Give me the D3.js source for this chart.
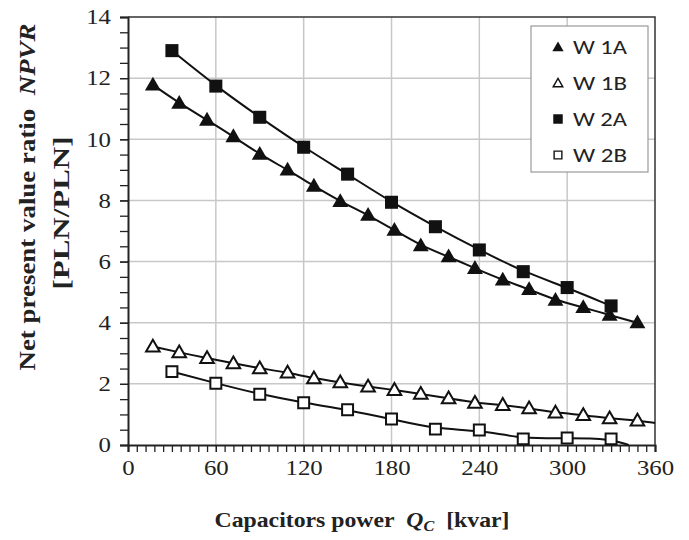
<!DOCTYPE html>
<html>
<head>
<meta charset="utf-8">
<script src="https://cdn.jsdelivr.net/npm/d3@7"></script>
<style>
  body { margin: 0; background: #fff; }
  svg { display: block; }
  .tick text { font-family: "Liberation Serif", "Times New Roman", serif; }
</style>
</head>
<body>
<div id="chart"></div>
<script>
// capacitor power steps [kvar]
var qA = [17, 35, 54, 72, 90, 109, 127, 145, 164, 182, 200, 219, 237, 256, 274, 292, 311, 329, 348];
var qB = [30, 60, 90, 120, 150, 180, 210, 240, 270, 300, 330];

// NPVR values
var w1a = [11.78, 11.18, 10.63, 10.09, 9.51, 9.0, 8.47, 7.97, 7.52, 7.03, 6.52, 6.16, 5.78, 5.4, 5.09, 4.74, 4.5, 4.25, 4.0];
var w1b = [3.22, 3.03, 2.84, 2.67, 2.51, 2.37, 2.18, 2.05, 1.91, 1.8, 1.67, 1.53, 1.38, 1.31, 1.2, 1.06, 0.98, 0.87, 0.8];
var w2a = [12.9, 11.74, 10.72, 9.74, 8.86, 7.94, 7.14, 6.38, 5.67, 5.15, 4.55];
var w2b = [2.4, 2.02, 1.66, 1.38, 1.15, 0.85, 0.52, 0.49, 0.2, 0.23, 0.2];

// where the trend lines run out past the last marker
var w1bTail = [[360, 0.72]];
var w2bTail = [[342, 0]];

var xTicks = [0, 60, 120, 180, 240, 300, 360];
var yTicks = [0, 2, 4, 6, 8, 10, 12, 14];

////////////////////////////////////////////////////////////////////////////////

var width = 689, height = 540;
var margin = { left: 128, right: 34, top: 17, bottom: 95 };

var svg = d3.select('#chart').append('svg')
    .attr('width', width)
    .attr('height', height);

var x = d3.scaleLinear().domain([0, 360]).range([margin.left, width - margin.right]);
var y = d3.scaleLinear().domain([0, 14]).range([height - margin.bottom, margin.top]);

// grid
svg.append('g').selectAll('line')
    .data(xTicks.slice(1, -1))
    .enter().append('line')
    .attr('x1', d => x(d)).attr('x2', d => x(d))
    .attr('y1', y(0)).attr('y2', y(14))
    .attr('stroke', '#c8c8c8').attr('stroke-width', 1.5);

svg.append('g').selectAll('line')
    .data(yTicks.slice(1, -1))
    .enter().append('line')
    .attr('x1', x(0)).attr('x2', x(360))
    .attr('y1', d => y(d)).attr('y2', d => y(d))
    .attr('stroke', '#c8c8c8').attr('stroke-width', 1.5);

// minor ticks
svg.append('g')
    .attr('transform', 'translate(0,' + y(0) + ')')
    .call(d3.axisBottom(x).tickValues(d3.range(0, 361, 6)).tickSize(7).tickFormat(''))
    .call(g => g.select('.domain').remove())
    .selectAll('line').attr('stroke', '#222').attr('stroke-width', 1.3);

svg.append('g')
    .attr('transform', 'translate(' + x(0) + ',0)')
    .call(d3.axisLeft(y).tickValues(d3.range(0, 14.01, 0.5)).tickSize(8).tickFormat(''))
    .call(g => g.select('.domain').remove())
    .selectAll('line').attr('stroke', '#222').attr('stroke-width', 1.3);

// axes with labels (the source font is a bit wide, so stretch the digits)
function styleLabels(sel) {
    sel.attr('font-size', 21).attr('fill', '#222')
        .attr('textLength', function() { return this.textContent.length * 12.4; })
        .attr('lengthAdjust', 'spacingAndGlyphs');
}

var xAxis = svg.append('g')
    .attr('transform', 'translate(0,' + y(0) + ')')
    .call(d3.axisBottom(x).tickValues(xTicks).tickSize(7).tickPadding(8));
xAxis.select('.domain').attr('stroke', '#222').attr('stroke-width', 2);
xAxis.selectAll('line').attr('stroke', '#222').attr('stroke-width', 1.3);
xAxis.selectAll('text').call(styleLabels);

var yAxis = svg.append('g')
    .attr('transform', 'translate(' + x(0) + ',0)')
    .call(d3.axisLeft(y).tickValues(yTicks).tickSize(8).tickPadding(9));
yAxis.select('.domain').attr('stroke', '#222').attr('stroke-width', 2);
yAxis.selectAll('line').attr('stroke', '#222').attr('stroke-width', 1.3);
yAxis.selectAll('text').call(styleLabels);

// top and right border
svg.append('path')
    .attr('d', 'M' + x(0) + ',' + y(14) + 'H' + x(360) + 'V' + y(0))
    .attr('fill', 'none').attr('stroke', '#333').attr('stroke-width', 1.5);

// series
var series = [
    { name: 'W 1A', q: qA, v: w1a, tail: [], shape: 'tri', fill: '#111' },
    { name: 'W 1B', q: qA, v: w1b, tail: w1bTail, shape: 'tri', fill: '#fff' },
    { name: 'W 2A', q: qB, v: w2a, tail: [], shape: 'sq', fill: '#111' },
    { name: 'W 2B', q: qB, v: w2b, tail: w2bTail, shape: 'sq', fill: '#fff' },
];

var line = d3.line()
    .x(d => x(d[0]))
    .y(d => y(d[1]))
    .curve(d3.curveBasis);

var triSym = d3.symbol().type(d3.symbolTriangle);
var sqSym = d3.symbol().type(d3.symbolSquare);

series.forEach(function(s) {
    var pts = s.q.map((q, i) => [q, s.v[i]]).concat(s.tail);
    svg.append('path')
        .datum(pts)
        .attr('d', line)
        .attr('fill', 'none')
        .attr('stroke', '#111')
        .attr('stroke-width', 2);
});

series.forEach(function(s) {
    var hollow = s.fill == '#fff';
    var sym = s.shape == 'tri' ? triSym.size(hollow ? 80 : 110) : sqSym.size(hollow ? 120 : 170);
    svg.append('g').selectAll('path')
        .data(s.q.map((q, i) => [q, s.v[i]]))
        .enter().append('path')
        .attr('transform', d => 'translate(' + x(d[0]) + ',' + (y(d[1]) + (s.shape == 'tri' ? 1 : 0)) + ')')
        .attr('d', sym)
        .attr('fill', s.fill)
        .attr('stroke', '#111')
        .attr('stroke-width', hollow ? 2 : 0);
});

// legend
var legend = svg.append('g').attr('transform', 'translate(531,26)');
legend.append('rect')
    .attr('width', 117).attr('height', 146)
    .attr('fill', '#fff').attr('stroke', '#999').attr('stroke-width', 1.2);

series.forEach(function(s, i) {
    var hollow = s.fill == '#fff';
    var row = legend.append('g').attr('transform', 'translate(27,' + (21 + i * 36) + ')');
    var sym = s.shape == 'tri' ? triSym.size(hollow ? 40 : 55) : sqSym.size(hollow ? 60 : 90);
    row.append('path')
        .attr('transform', 'translate(0,' + (s.shape == 'tri' ? 1 : 0) + ')')
        .attr('d', sym)
        .attr('fill', s.fill)
        .attr('stroke', '#111')
        .attr('stroke-width', hollow ? 1.4 : 0);
    row.append('text')
        .attr('x', 15).attr('y', 7)
        .attr('font-family', 'Carlito, "Open Sans", "Liberation Sans", sans-serif')
        .attr('font-size', 20)
        .attr('textLength', 54)
        .attr('lengthAdjust', 'spacingAndGlyphs')
        .attr('fill', '#222')
        .text(s.name);
});

// axis titles
var serif = '"Liberation Serif", "Times New Roman", serif';

var xt = svg.append('text')
    .attr('x', 362).attr('y', 527)
    .attr('text-anchor', 'middle')
    .attr('font-family', serif)
    .attr('font-size', 22)
    .attr('font-weight', 'bold')
    .attr('textLength', 295)
    .attr('lengthAdjust', 'spacingAndGlyphs')
    .attr('fill', '#222');
xt.append('tspan').text('Capacitors power\u00a0\u00a0');
xt.append('tspan').attr('font-style', 'italic').text('Q');
xt.append('tspan').attr('font-style', 'italic').attr('font-size', 15).attr('dy', 4).text('C');
xt.append('tspan').attr('dy', -4).text('\u00a0\u00a0[kvar]');

var yt = svg.append('text')
    .attr('transform', 'translate(35,197) rotate(-90)')
    .attr('text-anchor', 'middle')
    .attr('font-family', serif)
    .attr('font-size', 23)
    .attr('font-weight', 'bold')
    .attr('textLength', 347)
    .attr('lengthAdjust', 'spacingAndGlyphs')
    .attr('fill', '#222');
yt.append('tspan').text('Net present value ratio\u00a0\u00a0');
yt.append('tspan').attr('font-style', 'italic').text('NPVR');

svg.append('text')
    .attr('transform', 'translate(69,213) rotate(-90)')
    .attr('text-anchor', 'middle')
    .attr('font-family', serif)
    .attr('font-size', 23)
    .attr('font-weight', 'bold')
    .attr('textLength', 153)
    .attr('lengthAdjust', 'spacingAndGlyphs')
    .attr('fill', '#222')
    .text('[PLN/PLN]');
</script>
</body>
</html>
